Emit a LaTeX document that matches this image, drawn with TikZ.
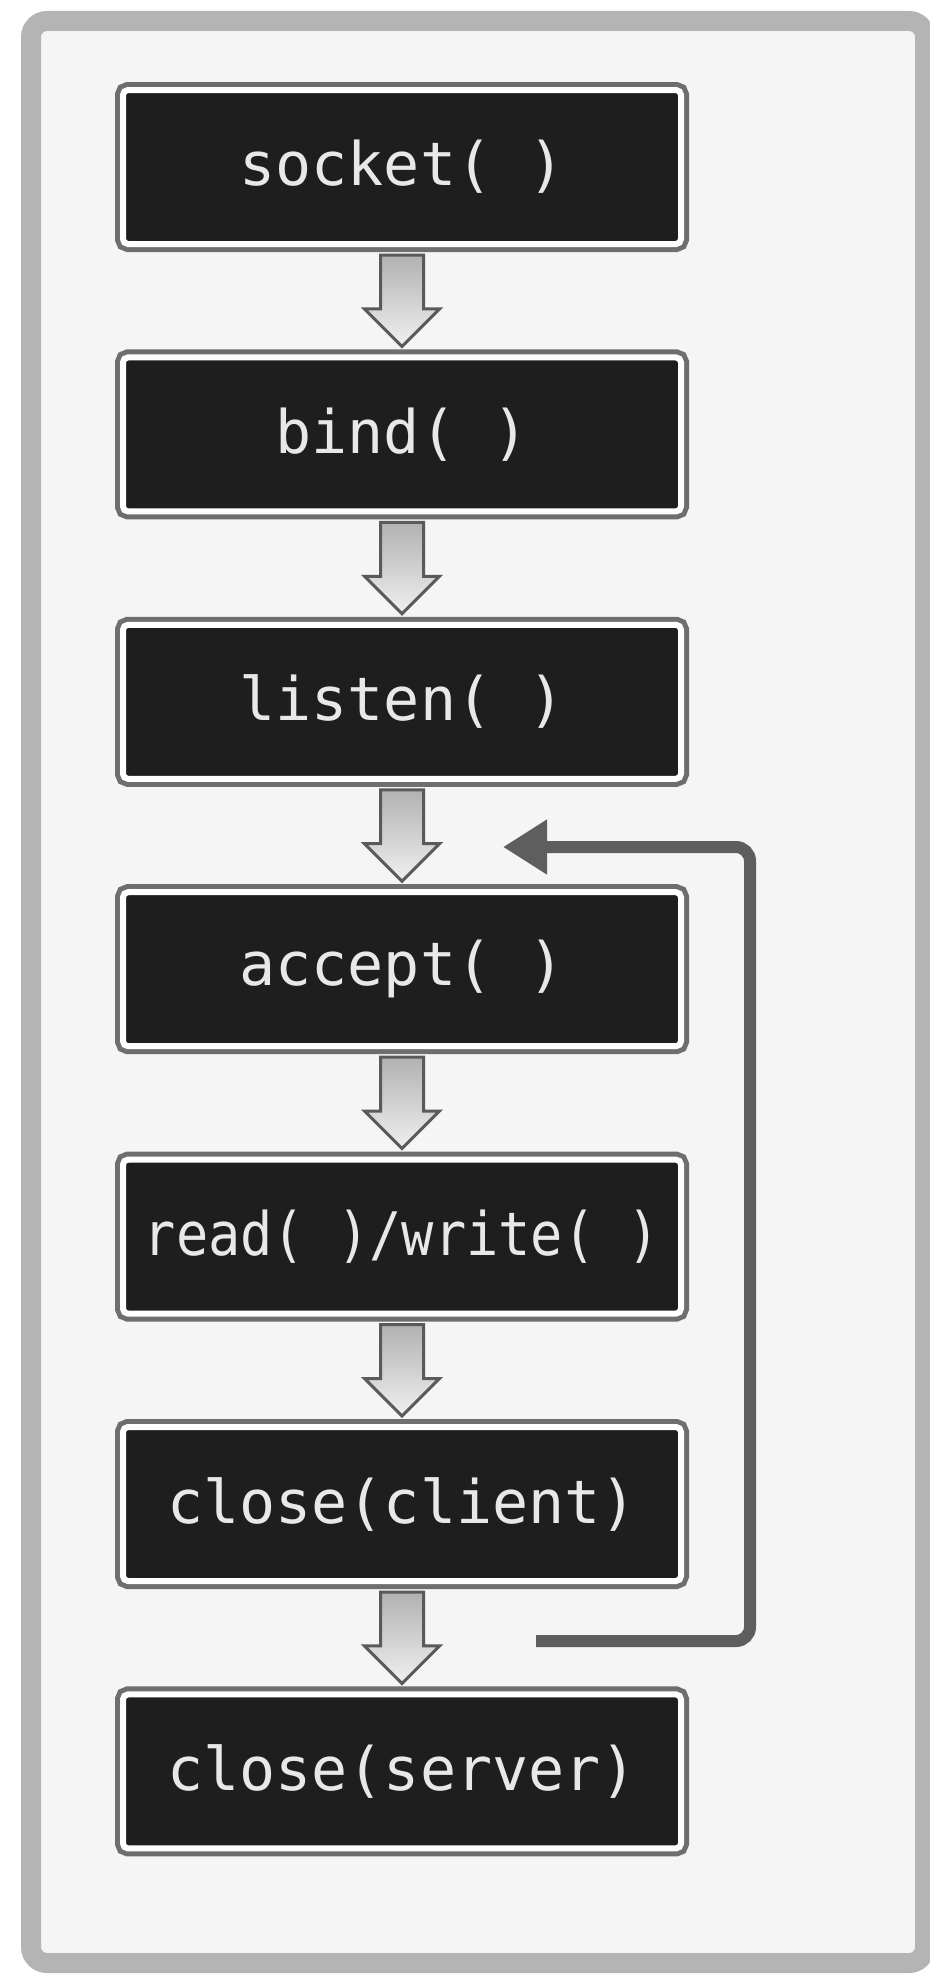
\documentclass[tikz,border=0pt]{standalone}
\usepackage{fontspec}
\usepackage{graphicx}
\usetikzlibrary{arrows.meta,calc}
\newfontfamily\monofont{DejaVu Sans Mono}
\definecolor{framegray}{HTML}{B4B4B4}
\definecolor{paper}{HTML}{F5F5F5}
\definecolor{boxfill}{HTML}{1E1E1E}
\definecolor{boxedge}{HTML}{6E6E6E}
\definecolor{boxtext}{HTML}{E8E8E8}
\definecolor{looparrow}{HTML}{5E5E5E}
\definecolor{arrowedge}{HTML}{5A5A5A}
\tikzset{
  stepbox/.style={rectangle, rounded corners=5pt, minimum width=558pt, minimum height=154pt,
    inner sep=0pt, fill=boxfill, draw=white, line width=6pt,
    preaction={draw=boxedge, line width=16pt},
    text=boxtext, font=\monofont\fontsize{60}{66}\selectfont},
  blockarrow/.style={to path={let \p1=(\tikztostart), \p2=(\tikztotarget) in
    (\x1-21.5pt,\y1-8pt) -- (\x1+21.5pt,\y1-8pt) -- (\x1+21.5pt,\y2+45.5pt)
    -- (\x1+37.5pt,\y2+45.5pt) -- (\x1,\y2+8pt) -- (\x1-37.5pt,\y2+45.5pt)
    -- (\x1-21.5pt,\y2+45.5pt) -- cycle}},
  flowarrow/.style={draw=arrowedge, line width=3pt, top color=gray!65, bottom color=gray!12, blockarrow},
  loopline/.style={draw=looparrow, line width=12pt, rounded corners=14pt,
    -{Triangle[length=44pt,width=52pt]}},
}
\begin{document}
\begin{tikzpicture}[x=1pt,y=-1pt]
\useasboundingbox (0,0) rectangle (929,1975);
\fill[white] (0,0) rectangle (929,1975);
\draw[framegray, line width=20pt, fill=paper, rounded corners=16pt] (31,21) rectangle (925,1963);

\node[stepbox] (socket) at (402,167) {socket( )};
\node[stepbox] (bind) at (402,434.4) {bind( )};
\node[stepbox] (listen) at (402,701.8) {listen( )};
\node[stepbox] (accept) at (402,969.2) {accept( )};
\node[stepbox] (rw) at (402,1236.6) {\scalebox{0.893}[1]{read( )/write( )}};
\node[stepbox] (cclient) at (402,1504) {close(client)};
\node[stepbox] (cserver) at (402,1771.4) {close(server)};

\draw[flowarrow] (socket.south) to (bind.north);
\draw[flowarrow] (bind.south) to (listen.north);
\draw[flowarrow] (listen.south) to (accept.north);
\draw[flowarrow] (accept.south) to (rw.north);
\draw[flowarrow] (rw.south) to (cclient.north);
\draw[flowarrow] (cclient.south) to (cserver.north);

\coordinate (loopA) at (536,1641);
\coordinate (loopB) at (750,1641);
\coordinate (loopC) at (750,847);
\coordinate (loopD) at (503,847);
\draw[loopline] (loopA) -- (loopB) -- (loopC) -- (loopD);
\end{tikzpicture}
\end{document}
